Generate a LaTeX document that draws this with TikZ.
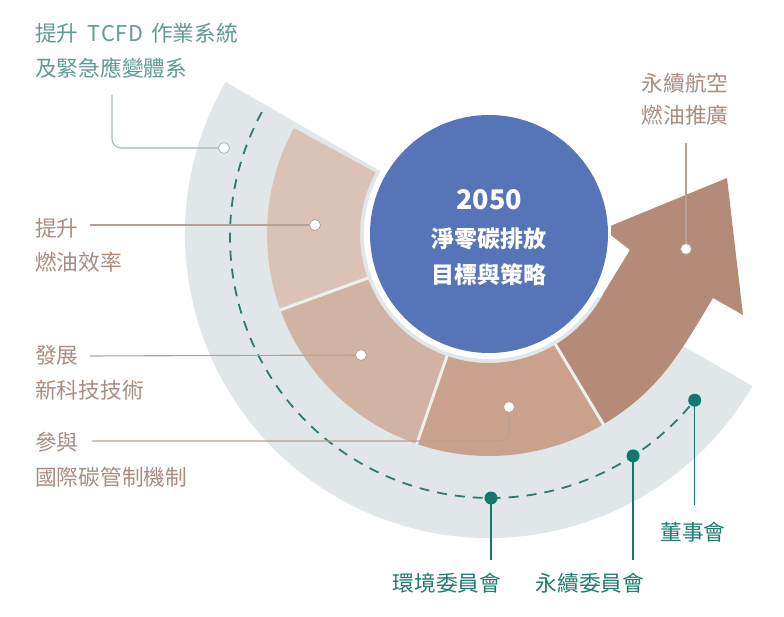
\documentclass[tikz,border=0pt]{standalone}
\usepackage{fontspec}
\setmainfont{Noto Sans CJK TC}
\usetikzlibrary{calc}
\definecolor{bandgrey}{HTML}{E1E7E8}
\definecolor{secA}{HTML}{DAC3B6}
\definecolor{secB}{HTML}{D0B3A3}
\definecolor{secC}{HTML}{C9A18C}
\definecolor{arrowc}{HTML}{B48B78}
\definecolor{coreblue}{HTML}{5874B9}
\definecolor{tealtxt}{HTML}{5F9C95}
\definecolor{browntxt}{HTML}{A98D80}
\definecolor{comtxt}{HTML}{1F7B70}
\definecolor{comdot}{HTML}{0F7A6C}
\definecolor{dashc}{HTML}{2E7B6D}
\definecolor{brownline}{HTML}{B7A095}
\definecolor{tealline}{HTML}{9DBCB8}
\definecolor{divc}{HTML}{EEEFEB}
\begin{document}
\begin{tikzpicture}[x=1pt,y=1pt,
  lbl/.style={font=\fontsize{21.7}{26}\selectfont, inner sep=0pt},
  tlbl/.style={lbl, text=tealtxt, anchor=west},
  blbl/.style={lbl, text=browntxt, anchor=west},
  clbl/.style={lbl, text=comtxt},
  wdot/.style={circle, fill=white, draw=#1, line width=0.8pt, inner sep=0pt, minimum size=11pt},
  cdot/.style={circle, fill=comdot, inner sep=0pt, minimum size=13pt},
  bline/.style={brownline, line width=1.1pt},
  tline/.style={tealline, line width=1.1pt},
  cline/.style={comdot, line width=1.4pt},
  divider/.style={divc, line width=3pt},
  dasharc/.style={dashc, line width=1.8pt, dash pattern=on 10pt off 8pt}
]
\useasboundingbox (0,0) rectangle (784,616);
\fill[white] (0,0) rectangle (784,616);

\begin{scope}[shift={(489,382)}]
  % grey band
  \fill[bandgrey] (150:304) arc[start angle=150,end angle=330,radius=304]
     -- (330:118) arc[start angle=330,end angle=150,radius=118] -- cycle;
  % sectors
  \fill[secA] (151.5:129) -- (151.5:222) arc[start angle=151.5,end angle=200,radius=222]
     -- (200:129) arc[start angle=200,end angle=151.5,radius=129] -- cycle;
  \fill[secB] (200:129) -- (200:222) arc[start angle=200,end angle=251,radius=222]
     -- (251:129) arc[start angle=251,end angle=200,radius=129] -- cycle;
  \fill[secC] (251:129) -- (251:222) arc[start angle=251,end angle=301,radius=222]
     -- (301:129) arc[start angle=301,end angle=251,radius=129] -- cycle;
  % white ring round the core
  \fill[white] (0,0) circle (125);
  % arrow
  \fill[arrowc] (-59:129) -- (-59:222) to[out=31,in=239] (224,-64) -- (254,-81)
     -- (238,56) -- (114,5) -- (141,-16) -- (-27:129)
     arc[start angle=-27,end angle=-59,radius=129] -- cycle;
  % dividers
  \draw[divider] (200:128) -- (200:223);
  \draw[divider] (251:128) -- (251:223);
  \draw[divider] (301:128) -- (301:223);
  % core circle
  \fill[white] (0,0) circle (122);
  \fill[coreblue] (0,0) circle (119);
\end{scope}

% centre text
\node[text=white, font=\bfseries\fontsize{27}{32}\selectfont] (yr) at (489,416) {2050};
\node[text=white, font=\bfseries\fontsize{23}{28}\selectfont] (c1) at (489,377) {淨零碳排放};
\node[text=white, font=\bfseries\fontsize{23}{28}\selectfont] (c2) at (489,341) {目標與策略};

% dashed governance arc
\draw[dasharc] (491,379) ++(151.4:261) arc[start angle=151.4,end angle=321.3,radius=261];

% left labels
\node[tlbl] (tA) at (35,583) {提升\hspace{9pt}T\kern0.6pt C\kern0.6pt F\kern0.6pt D\hspace{8pt}作業系統};
\node[tlbl] (tB) at (35,548) {及緊急應變體系};
\node[blbl] (fA) at (35,388) {提升};
\node[blbl] (fB) at (35,354) {燃油效率};
\node[blbl] (nA) at (35,261) {發展};
\node[blbl] (nB) at (35,226) {新科技技術};
\node[blbl] (gA) at (35,174) {參與};
\node[blbl] (gB) at (35,139) {國際碳管制機制};
\node[lbl, text=browntxt] (sA) at (685,533) {永續航空};
\node[lbl, text=browntxt] (sB) at (685,501) {燃油推廣};

% connector coordinates
\coordinate (t0) at (112,521);
\coordinate (t1) at (224,468);
\coordinate (f0) at (90,391);
\coordinate (f1) at (315,391);
\coordinate (n0) at (90,260);
\coordinate (n1) at (361,261);
\coordinate (g0) at (92,175);
\coordinate (g1) at (509,209);
\coordinate (s0) at (686,473);
\coordinate (s1) at (686,367);

\draw[tline, rounded corners=9pt] (t0) |- (t1);
\draw[bline] (f0) -- (f1);
\draw[bline] (n0) -- (n1);
\draw[bline, rounded corners=9pt] (g0) -| (g1);
\draw[bline] (s0) -- (s1);

\node[wdot=tealline] (dt) at (t1) {};
\node[wdot=brownline] (df) at (f1) {};
\node[wdot=brownline] (dn) at (n1) {};
\node[wdot=brownline] (dg) at (g1) {};
\node[wdot=brownline] (ds) at (s1) {};

% committees
\coordinate (e0) at (491,118);
\coordinate (e1) at (491,56);
\coordinate (y0) at (633.1,160.1);
\coordinate (y1) at (633.1,56);
\coordinate (b0) at (694.7,215.8);
\coordinate (b1) at (694.7,111);
\draw[cline] (e0) -- (e1);
\draw[cline] (y0) -- (y1);
\draw[cline] (b0) -- (b1);
\node[cdot] (de) at (e0) {};
\node[cdot] (dy) at (y0) {};
\node[cdot] (db) at (b0) {};
\node[clbl] (le) at (447,33) {環境委員會};
\node[clbl] (ly) at (590,33) {永續委員會};
\node[clbl] (lb) at (693,84) {董事會};
\end{tikzpicture}
\end{document}
